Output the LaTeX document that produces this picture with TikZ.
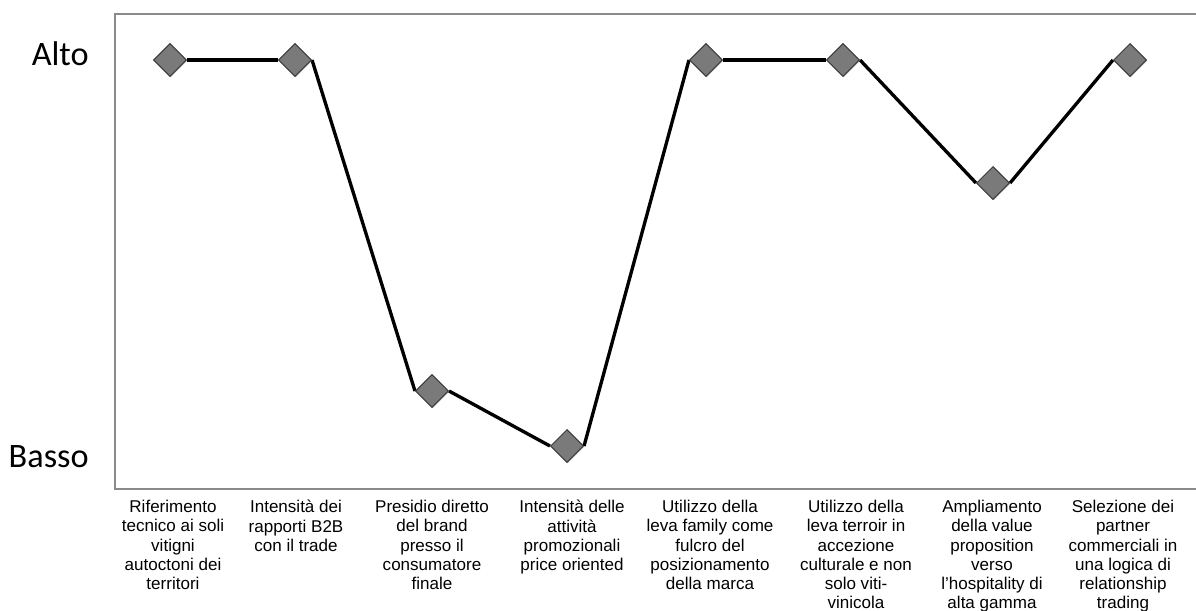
\documentclass[tikz,border=0pt]{standalone}
\usepackage{fontspec}
\setmainfont{Liberation Sans}
\newfontfamily\livello{Carlito}
\usetikzlibrary{shapes.geometric,shadows,backgrounds}

\definecolor{rombo}{HTML}{7A7A7A}
\definecolor{bordo}{HTML}{3A3A3A}
\definecolor{cornice}{HTML}{8A8A8A}

\begin{document}
\begin{tikzpicture}[x=0.02cm, y=-0.02cm,
    punto/.style={diamond, draw=bordo, line width=0.6pt, fill=rombo, inner sep=0pt, minimum size=0.66cm,
                  drop shadow={shadow xshift=0.6pt, shadow yshift=-0.6pt, opacity=0.25}},
    voce/.style={anchor=north, align=center, inner sep=0pt, font=\fontsize{9.7}{10.9}\selectfont},
    livello/.style={anchor=base east, inner sep=0pt, font=\livello\fontsize{19.5}{22}\selectfont},
    serie/.style={line width=1.9pt, line join=round}]
    \useasboundingbox (0,0) rectangle (1196,610);

    % cornice del grafico
    \draw[cornice, line width=0.9pt] (1196,14) -- (115,14) -- (115,489) -- (1196,489);

    \node[livello] (alto) at (89,65) {Alto};
    \node[livello] (basso) at (89,467) {Basso};

    \node[punto] (rif) at (170,60) {};
    \node[punto] (btob) at (295,60) {};
    \node[punto] (presidio) at (432,391) {};
    \node[punto] (promo) at (567,446) {};
    \node[punto] (family) at (706,60) {};
    \node[punto] (terroir) at (843,60) {};
    \node[punto] (hosp) at (993,183) {};
    \node[punto] (partner) at (1130,60) {};

    \begin{pgfonlayer}{background}
        \draw[serie] (rif.east) -- (btob.west);
        \draw[serie] (btob.east) -- (presidio.west);
        \draw[serie] (presidio.east) -- (promo.west);
        \draw[serie] (promo.east) -- (family.west);
        \draw[serie] (family.east) -- (terroir.west);
        \draw[serie] (terroir.east) -- (hosp.west);
        \draw[serie] (hosp.east) -- (partner.west);
    \end{pgfonlayer}

    % voci sull'asse orizzontale
    \node[voce] (v-rif) at (173,500) {Riferimento\\tecnico ai soli\\vitigni\\autoctoni dei\\territori};
    \node[voce] (v-btob) at (296,500) {Intensità dei\\rapporti B2B\\con il trade};
    \node[voce] (v-presidio) at (432,500) {Presidio diretto\\del brand\\presso il\\consumatore\\finale};
    \node[voce] (v-promo) at (572,500) {Intensità delle\\attività\\promozionali\\price oriented};
    \node[voce] (v-family) at (710,500) {Utilizzo della\\leva family come\\fulcro del\\posizionamento\\della marca};
    \node[voce] (v-terroir) at (856,500) {Utilizzo della\\leva terroir in\\accezione\\culturale e non\\solo viti-\\vinicola};
    \node[voce] (v-hosp) at (992,500) {Ampliamento\\della value\\proposition\\verso\\l'hospitality di\\alta gamma};
    \node[voce] (v-partner) at (1123,500) {Selezione dei\\partner\\commerciali in\\una logica di\\relationship\\trading};
\end{tikzpicture}
\end{document}
